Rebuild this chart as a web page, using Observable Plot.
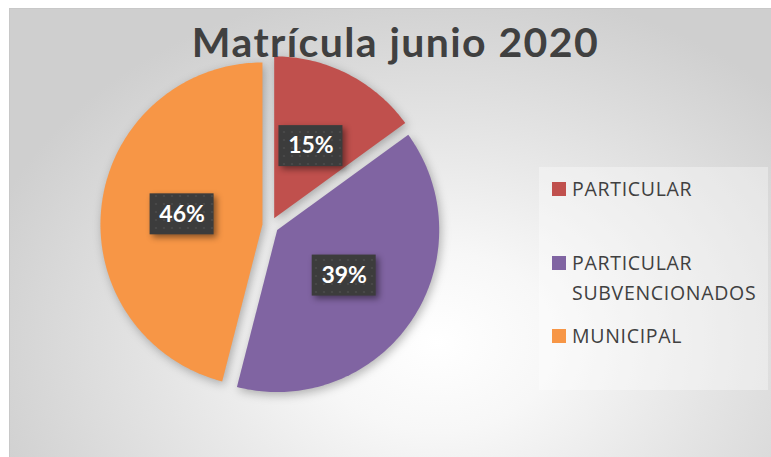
<!DOCTYPE html>
<html>
<head>
<meta charset="utf-8">
<script src="https://cdn.jsdelivr.net/npm/d3@7"></script>
<script src="https://cdn.jsdelivr.net/npm/@observablehq/plot@0.6"></script>
<style>
  body { margin: 0; background: #ffffff; }
  #chart { position: relative; width: 771px; height: 457px; overflow: hidden; font-family: "Open Sans", sans-serif; }
  #bg { position: absolute; left: 9px; top: 8px; width: 764px; height: 452px; box-sizing: border-box;
        border: 1px solid #c8c8c8;
        background: radial-gradient(ellipse 62% 80% at 56% 74%, #ffffff 0%, #f7f7f7 25%, #e4e4e4 60%, #cfcfcf 100%); }
  #plot { position: absolute; left: 0; top: 0; }
  #title { position: absolute; left: 0; top: 22px; width: 791px; text-align: center;
           font-family: Lato, sans-serif; font-weight: 700; font-size: 41px; line-height: 40px; letter-spacing: 1.4px;
           color: #404040; white-space: nowrap; }
  #legend { position: absolute; left: 539px; top: 167px; width: 229px; height: 223px; background: rgba(255,255,255,0.35); }
  .item { position: absolute; left: 13px; display: flex; align-items: flex-start; }
  .sw { width: 14px; height: 14px; margin-top: 8px; margin-right: 6px; flex: none; }
  .lab { font-size: 19.5px; line-height: 30px; letter-spacing: 0.7px; color: #404040; white-space: nowrap; }
</style>
</head>
<body>
<div id="chart">
  <div id="bg"></div>
  <div id="plot"></div>
  <div id="title"></div>
  <div id="legend"></div>
</div>
<script>
// ---- data ----
const title = "Matrícula junio 2020";
const categories = ["PARTICULAR", "PARTICULAR SUBVENCIONADOS", "MUNICIPAL"];
const legendLines = [["PARTICULAR"], ["PARTICULAR", "SUBVENCIONADOS"], ["MUNICIPAL"]];
const shares = [15, 39, 46];
const colors = ["#C0504D", "#8064A2", "#F79646"];

// ---- layout ----
const W = 771, H = 457;
const CX = 270, CY = 225, R = 162;
const EXPLODE = 0.05;
const LABEL_R = 0.5;
const BOX_W = 64, BOX_H = 41;
const legendTops = [7, 81, 154];

const arcs = d3.pie().sort(null).value(d => d)(shares);
const slicePoints = [];
const labelData = [];
arcs.forEach((a, i) => {
  const mid = (a.startAngle + a.endAngle) / 2;
  const ox = EXPLODE * Math.sin(mid), oy = EXPLODE * Math.cos(mid);
  slicePoints.push({name: categories[i], x: ox, y: oy});
  const n = Math.max(2, Math.ceil((a.endAngle - a.startAngle) / (Math.PI / 180)));
  for (let k = 0; k <= n; k++) {
    const t = a.startAngle + (a.endAngle - a.startAngle) * k / n;
    slicePoints.push({name: categories[i], x: ox + Math.sin(t), y: oy + Math.cos(t)});
  }
  labelData.push({
    name: categories[i],
    x: ox + LABEL_R * Math.sin(mid),
    y: oy + LABEL_R * Math.cos(mid),
    text: shares[i] + "%"
  });
});

const hw = BOX_W / 2 / R, hh = BOX_H / 2 / R;
const plot = Plot.plot({
  width: W, height: H, margin: 0,
  x: {domain: [-1, 1], range: [CX - R, CX + R], axis: null},
  y: {domain: [-1, 1], range: [CY + R, CY - R], axis: null},
  color: {domain: categories, range: colors},
  style: {background: "transparent", overflow: "visible"},
  marks: [
    Plot.line(slicePoints, {x: "x", y: "y", z: "name", fill: "name", stroke: "none", curve: "linear-closed"}),
    Plot.rect(labelData, {x1: d => d.x - hw, x2: d => d.x + hw, y1: d => d.y - hh, y2: d => d.y + hh, fill: "#3e3e3e"}),
    Plot.text(labelData, {x: "x", y: "y", text: "text", fill: "white", fontSize: 23, fontWeight: "bold", fontFamily: "Lato"})
  ]
});
document.getElementById("plot").appendChild(plot);

// styling touches: shadows and dotted label pattern
const svgns = "http://www.w3.org/2000/svg";
const defs = document.createElementNS(svgns, "defs");
defs.innerHTML = '<pattern id="dots" width="8" height="8" patternUnits="userSpaceOnUse">' +
  '<rect width="8" height="8" fill="#3c3c3c"></rect><circle cx="4" cy="4" r="1.1" fill="#4b4b4b"></circle></pattern>';
plot.insertBefore(defs, plot.firstChild);
const lineG = plot.querySelector('g[aria-label="line"]');
if (lineG) lineG.style.filter = "drop-shadow(2px 3px 5px rgba(0,0,0,0.28))";
const rectG = plot.querySelector('g[aria-label="rect"]');
if (rectG) {
  rectG.style.filter = "drop-shadow(3px 3px 3px rgba(0,0,0,0.45))";
  rectG.querySelectorAll("rect").forEach(r => r.setAttribute("fill", "url(#dots)"));
}

document.getElementById("title").textContent = title;

const legend = document.getElementById("legend");
legendLines.forEach((lines, i) => {
  const item = document.createElement("div");
  item.className = "item";
  item.style.top = legendTops[i] + "px";
  const sw = document.createElement("div");
  sw.className = "sw";
  sw.style.background = colors[i];
  const lab = document.createElement("div");
  lab.className = "lab";
  lab.innerHTML = lines.join("<br>");
  item.appendChild(sw);
  item.appendChild(lab);
  legend.appendChild(item);
});
</script>
</body>
</html>
